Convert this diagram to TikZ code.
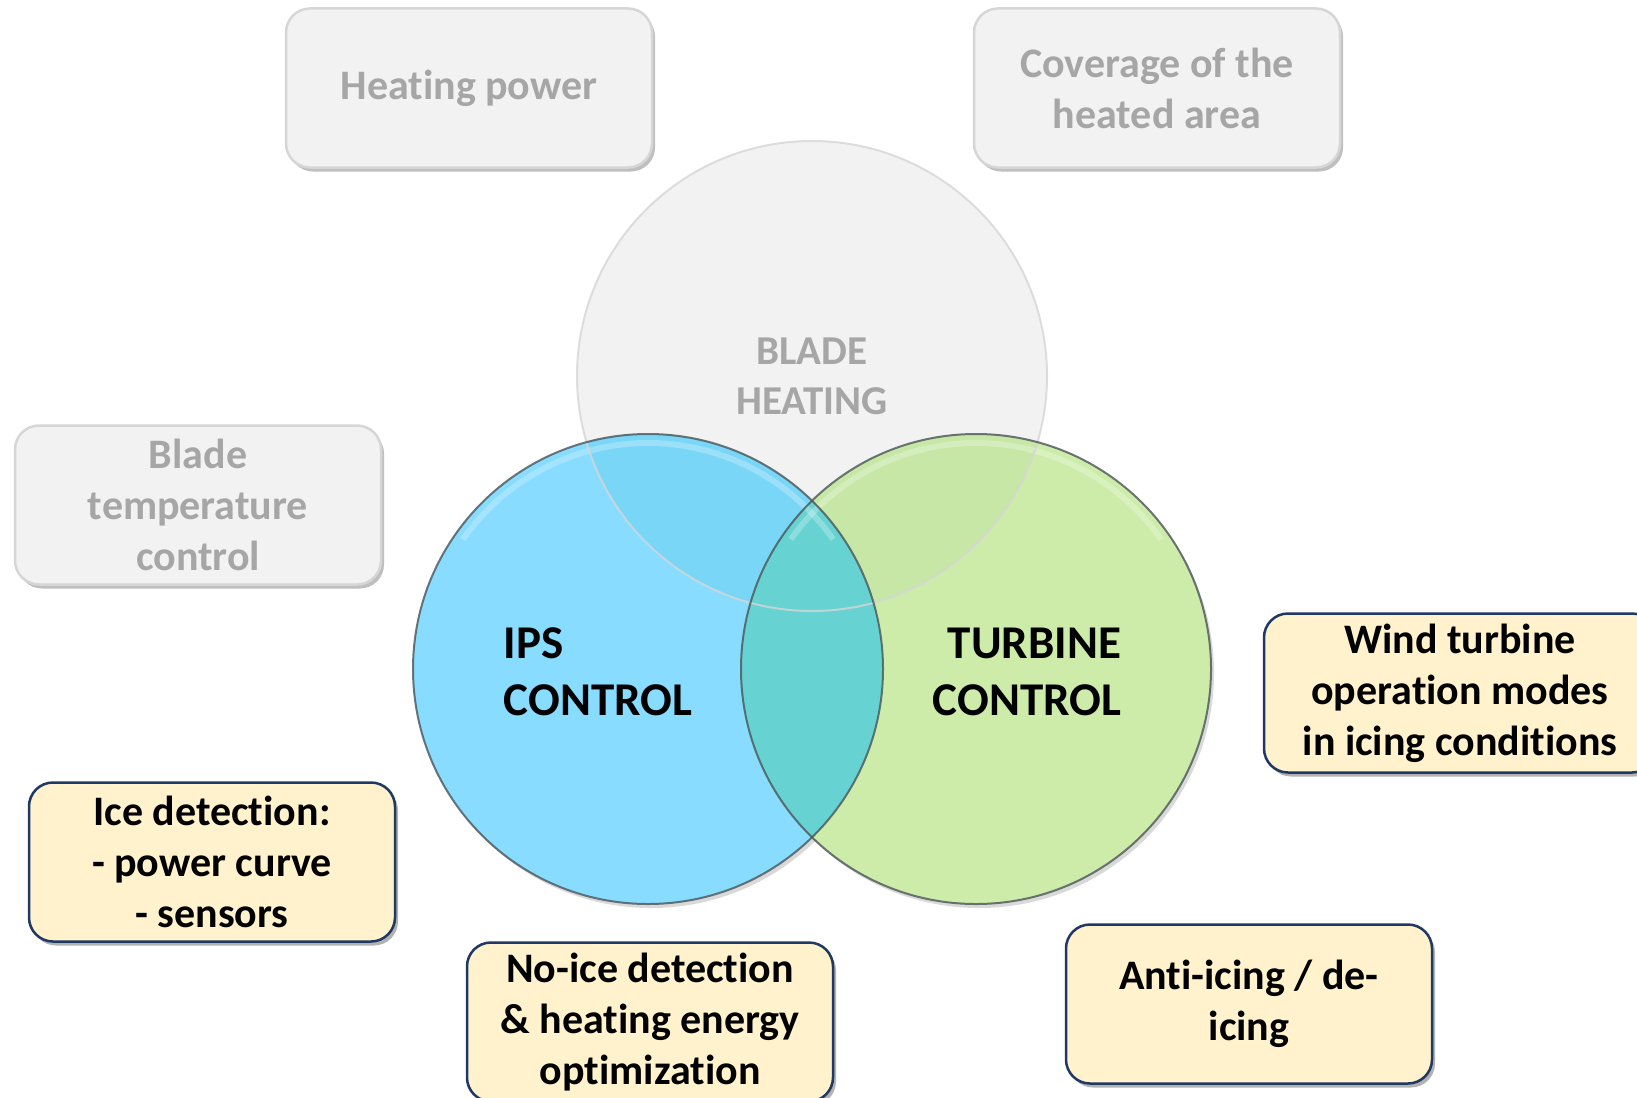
\documentclass[tikz,border=0pt]{standalone}
\usepackage{fontspec}
\setmainfont{Carlito}[Ligatures={NoCommon}]
\usetikzlibrary{positioning,shadows}
\definecolor{halvany}{HTML}{F2F2F2}
\definecolor{keret}{HTML}{D6D6D6}
\definecolor{szoveg}{HTML}{A6A6A6}
\definecolor{krem}{HTML}{FFF2CC}
\definecolor{sotet}{HTML}{1F3864}
\definecolor{kek}{RGB}{135,220,255}
\definecolor{kekmely}{RGB}{122,214,246}
\definecolor{zold}{RGB}{205,236,170}
\definecolor{zoldmely}{RGB}{198,231,166}
\definecolor{turkiz}{RGB}{103,210,210}
\definecolor{perem}{RGB}{75,85,88}
\tikzset{
  faded/.style={draw=keret,line width=2.5pt,rounded corners=24pt,fill=halvany,text=szoveg,
                font=\bfseries\fontsize{42}{51}\selectfont,align=center,
                minimum width=366pt,minimum height=159pt,
                drop shadow={shadow xshift=3pt,shadow yshift=-4pt,fill=black,opacity=.25}},
  task/.style={draw=sotet,line width=2.5pt,rounded corners=24pt,fill=krem,text=black,
               font=\bfseries\fontsize{42}{51}\selectfont,align=center,
               minimum width=366pt,minimum height=159pt,
               drop shadow={shadow xshift=3pt,shadow yshift=-4pt,fill=black,opacity=.3}},
  felirat/.style={font=\bfseries\fontsize{47}{57}\selectfont,text=black,inner sep=0pt},
  arnyek/.style={fill=black,opacity=.15},
  csillogas/.style={white,opacity=.25,line width=6pt},
}

\begin{document}
\begin{tikzpicture}[x=1pt,y=-1pt]
  \useasboundingbox (0,0) rectangle (1637,1097);
  % circles
  \coordinate (bh) at (812,376);
  \coordinate (ips) at (648,669);
  \coordinate (tc) at (976,669);
  \fill[arnyek] ([shift={(3,4)}]ips) circle[radius=235];
  \fill[arnyek] ([shift={(3,4)}]tc) circle[radius=235];
  \fill[halvany] (bh) circle[radius=235];
  \fill[kek] (ips) circle[radius=235];
  \fill[zold] (tc) circle[radius=235];
  \begin{scope}
    \clip (bh) circle[radius=235];
    \fill[kekmely] (ips) circle[radius=235];
    \fill[zoldmely] (tc) circle[radius=235];
  \end{scope}
  \begin{scope}
    \clip (ips) circle[radius=235];
    \fill[turkiz] (tc) circle[radius=235];
  \end{scope}
  \draw[csillogas] (ips) ++(215:226) arc[start angle=215,end angle=325,radius=226];
  \draw[csillogas] (tc) ++(215:226) arc[start angle=215,end angle=325,radius=226];
  \draw[keret,line width=2pt,opacity=.8] (bh) circle[radius=235];
  \draw[perem,line width=2pt,opacity=.8] (ips) circle[radius=235];
  \draw[perem,line width=2pt,opacity=.8] (tc) circle[radius=235];

  \node[felirat,text=szoveg,font=\bfseries\fontsize{41}{50}\selectfont,align=center] (bhtext) at (bh) {BLADE\\HEATING};
  \node[felirat,align=left] (ipstext) at (598,672) {IPS\\CONTROL};
  \node[felirat,align=right] (tctext) at (1027,672) {TURBINE\\CONTROL};

  % boxes
  \node[faded] (power) at (469,88) {Heating power};
  \node[faded] (cover) at (1157,88) {Coverage of the\\heated area};
  \node[faded] (temp) at (198,505) {Blade\\temperature\\control};
  \node[task] (ice) at (212,862) {Ice detection:\\- power curve\\- sensors};
  \node[task] (noice) at (650,1022) {No-ice detection\\\& heating energy\\optimization};
  \node[task] (anti) at (1249,1004) {Anti-icing / de-\\icing};
  \node[task,minimum width=392pt] (wind) at (1460,693) {Wind turbine\\operation modes\\in icing conditions};
\end{tikzpicture}
\end{document}
